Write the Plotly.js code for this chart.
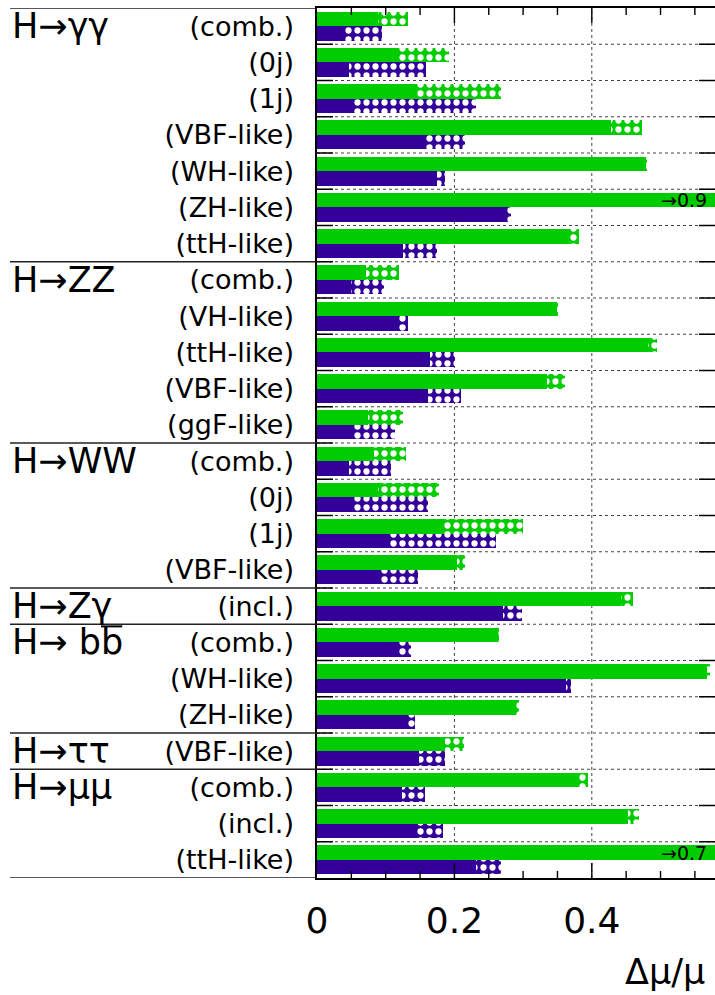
<!DOCTYPE html>
<html>
<head>
<meta charset="utf-8">
<script src="https://cdn.plot.ly/plotly-3.0.1.min.js"></script>
<style>html,body{margin:0;padding:0;background:#fff;}#chart{width:715px;height:995px;}</style>
</head>
<body>
<div id="chart"></div>
<script>
// ---- data ----
const groups = ['H\u2192\u03b3\u03b3', 'H\u2192ZZ', 'H\u2192WW', 'H\u2192Z\u03b3',
                'H\u2192 bb', 'H\u2192\u03c4\u03c4', 'H\u2192\u03bc\u03bc'];
const groupSizes = [7, 5, 4, 1, 3, 1, 3];
const barredGroup = 4; // b-bbar: second b carries an overline
const channels = [
  '(comb.)', '(0j)', '(1j)', '(VBF-like)', '(WH-like)', '(ZH-like)', '(ttH-like)',
  '(comb.)', '(VH-like)', '(ttH-like)', '(VBF-like)', '(ggF-like)',
  '(comb.)', '(0j)', '(1j)', '(VBF-like)',
  '(incl.)',
  '(comb.)', '(WH-like)', '(ZH-like)',
  '(VBF-like)',
  '(comb.)', '(incl.)', '(ttH-like)'
];
// green (upper bar): solid part and full (hatched) extent
const greenSolid = [0.089, 0.120, 0.146, 0.428, 0.479, 0.9, 0.365,
                    0.072, 0.349, 0.482, 0.335, 0.074,
                    0.083, 0.089, 0.183, 0.204,
                    0.442,
                    0.262, 0.568, 0.290,
                    0.187,
                    0.382, 0.453, 0.7];
const greenTotal = [0.133, 0.192, 0.268, 0.473, 0.481, 0.9, 0.382,
                    0.119, 0.351, 0.495, 0.361, 0.125,
                    0.129, 0.178, 0.300, 0.215,
                    0.460,
                    0.265, 0.572, 0.294,
                    0.214,
                    0.395, 0.468, 0.7];
// purple (lower bar)
const purpleSolid = [0.038, 0.047, 0.054, 0.158, 0.175, 0.276, 0.125,
                     0.049, 0.120, 0.164, 0.161, 0.051,
                     0.047, 0.054, 0.104, 0.090,
                     0.271,
                     0.120, 0.363, 0.129,
                     0.149,
                     0.123, 0.144, 0.232];
const purpleTotal = [0.095, 0.158, 0.231, 0.215, 0.186, 0.282, 0.174,
                     0.098, 0.133, 0.201, 0.209, 0.113,
                     0.107, 0.162, 0.260, 0.147,
                     0.298,
                     0.137, 0.370, 0.143,
                     0.186,
                     0.157, 0.183, 0.268];
const xTickVals = [0, 0.2, 0.4];
const xTickText = ['0', '0.2', '0.4'];
const xMinorStep = 0.05;
const xTitle = '\u0394\u03bc/\u03bc';

// ---- styling ----
const GREEN = '#00cc00';
const PURPLE = '#330099';
const FONT = 'DejaVu Sans';
const xMax = 0.5793;
const nRows = channels.length;
const rows = channels.map((_, i) => i);
const BW = 0.4;
const PLOT_W = 398, PLOT_H = 870;
const GROUP_FONT = 35;

function hatched(color) {
  return {shape: '.', fillmode: 'replace', bgcolor: color, fgcolor: '#ffffff', size: 9, solidity: 0.38};
}

const traces = [
  {type: 'bar', orientation: 'h', y: rows, x: greenTotal, offset: -BW, width: BW,
   marker: {color: GREEN, line: {width: 0}, pattern: hatched(GREEN)}, hoverinfo: 'skip'},
  {type: 'bar', orientation: 'h', y: rows, x: greenSolid, offset: -BW, width: BW,
   marker: {color: GREEN, line: {width: 0}}, hoverinfo: 'skip'},
  {type: 'bar', orientation: 'h', y: rows, x: purpleTotal, offset: 0, width: BW,
   marker: {color: PURPLE, line: {width: 0}, pattern: hatched(PURPLE)}, hoverinfo: 'skip'},
  {type: 'bar', orientation: 'h', y: rows, x: purpleSolid, offset: 0, width: BW,
   marker: {color: PURPLE, line: {width: 0}}, hoverinfo: 'skip'}
];

const annotations = [];
const shapes = [];
const leftPaper = -307 / PLOT_W;

// group labels and separators in the label panel
let start = 0;
const bounds = [-0.5];
groups.forEach((g, k) => {
  annotations.push({xref: 'paper', yref: 'y', x: leftPaper, y: start, xanchor: 'left', yanchor: 'middle',
    text: g, showarrow: false, font: {family: FONT, size: GROUP_FONT, color: '#000'}});
  if (k === barredGroup) {
    // overline over the second "b" (antiquark)
    const em = GROUP_FONT;
    const x0 = (0.752 + 0.838 + 0.318 + 0.635) * em + 2;
    shapes.push({type: 'line', xref: 'paper', yref: 'y', xsizemode: 'pixel', ysizemode: 'pixel',
      xanchor: leftPaper, yanchor: start, x0: x0, x1: x0 + 0.635 * em - 1, y0: 16, y1: 16,
      line: {color: '#000', width: 2}});
  }
  start += groupSizes[k];
  bounds.push(start - 0.5);
});
bounds.forEach(b => {
  shapes.push({type: 'line', xref: 'paper', yref: 'y', x0: leftPaper, x1: 0, y0: b, y1: b,
    line: {color: '#222', width: 1.6}});
});

// row boundaries: dotted grid + inside ticks on both sides
const tickX = 16 / PLOT_W * xMax;
rows.slice(1).forEach(i => {
  const b = i - 0.5;
  shapes.push({type: 'line', layer: 'below', xref: 'x', yref: 'y', x0: 0, x1: xMax, y0: b, y1: b,
    line: {color: '#444', width: 1, dash: 'dot'}});
  shapes.push({type: 'line', xref: 'x', yref: 'y', x0: 0, x1: tickX, y0: b, y1: b,
    line: {color: '#000', width: 1.5}});
  shapes.push({type: 'line', xref: 'x', yref: 'y', x0: xMax - tickX, x1: xMax, y0: b, y1: b,
    line: {color: '#000', width: 1.5}});
});

// x ticks (top and bottom) + vertical dotted grid at labelled values
const minorLen = 7 / PLOT_H, majorLen = 15 / PLOT_H;
for (let k = 1; k * xMinorStep < xMax; k++) {
  const v = +(k * xMinorStep).toFixed(4);
  const isMajor = xTickVals.some(t => Math.abs(t - v) < 1e-9);
  const len = isMajor ? majorLen : minorLen;
  shapes.push({type: 'line', xref: 'x', yref: 'paper', x0: v, x1: v, y0: 0, y1: len,
    line: {color: '#000', width: 1.4}});
  shapes.push({type: 'line', xref: 'x', yref: 'paper', x0: v, x1: v, y0: 1 - len, y1: 1,
    line: {color: '#000', width: 1.4}});
  if (isMajor) {
    shapes.push({type: 'line', layer: 'below', xref: 'x', yref: 'paper', x0: v, x1: v, y0: 0, y1: 1,
      line: {color: '#444', width: 1, dash: 'dot'}});
  }
}

// off-scale markers
greenTotal.forEach((v, i) => {
  if (v > xMax) {
    annotations.push({xref: 'paper', yref: 'y', x: 0.985, y: i - BW / 2, xanchor: 'right', yanchor: 'middle',
      text: '\u2192' + v, showarrow: false, font: {family: FONT, size: 19, color: '#000'}});
  }
});
// axis title bottom right
annotations.push({xref: 'paper', yref: 'paper', x: (707 - 317) / PLOT_W, y: -0.108, xanchor: 'right', yanchor: 'middle',
  text: xTitle, showarrow: false, font: {family: FONT, size: 35, color: '#000'}});

const layout = {
  width: 715, height: 995,
  margin: {l: 317, r: 0, t: 8, b: 117},
  paper_bgcolor: '#fff', plot_bgcolor: '#fff',
  font: {family: FONT, color: '#000'},
  barmode: 'overlay', bargap: 0,
  showlegend: false,
  xaxis: {
    range: [0, xMax], tickmode: 'array', tickvals: xTickVals, ticktext: xTickText,
    ticks: '', showline: true, linewidth: 1.6, linecolor: '#000', mirror: true,
    showgrid: false, zeroline: false,
    tickfont: {family: FONT, size: 36, color: '#000'}, ticklabelstandoff: 10
  },
  yaxis: {
    range: [nRows - 0.5, -0.5], tickmode: 'array', tickvals: rows, ticktext: channels,
    ticks: '', showline: true, linewidth: 1.6, linecolor: '#000', mirror: true,
    showgrid: false, zeroline: false,
    tickfont: {family: FONT, size: 27, color: '#000'}, ticklabelstandoff: 16
  },
  annotations: annotations,
  shapes: shapes
};

Plotly.newPlot('chart', traces, layout, {staticPlot: true, displayModeBar: false});
</script>
</body>
</html>
